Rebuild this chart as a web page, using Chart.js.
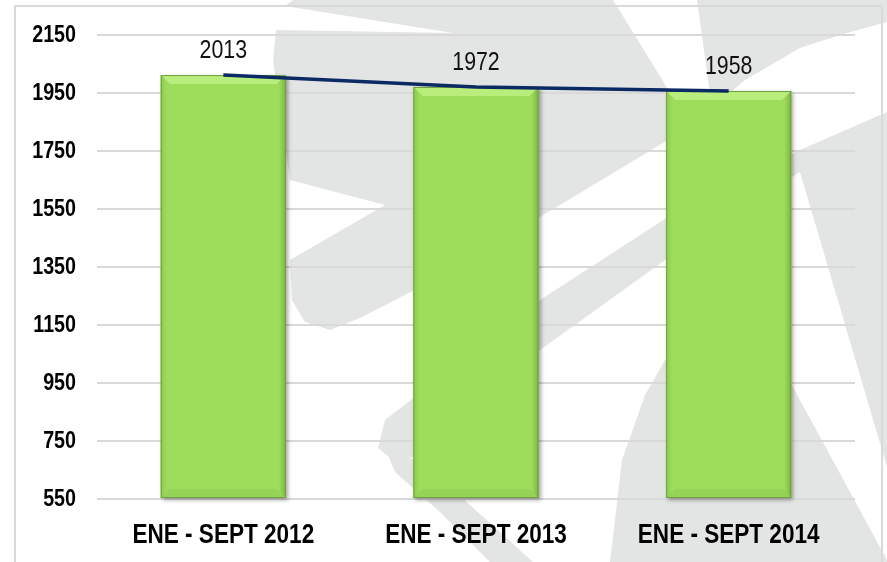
<!DOCTYPE html>
<html>
<head>
<meta charset="utf-8">
<script src="https://cdn.jsdelivr.net/npm/chart.js@4/dist/chart.umd.min.js"></script>
<style>
  html, body { margin: 0; padding: 0; background: #ffffff; }
  #c { display: block; }
</style>
</head>
<body>
<canvas id="c" width="887" height="562"></canvas>
<script>
// ---- data ----
const categories = ['ENE - SEPT 2012', 'ENE - SEPT 2013', 'ENE - SEPT 2014'];
const values = [2013, 1972, 1958];
const yTickLabels = [550, 750, 950, 1150, 1350, 1550, 1750, 1950, 2150];

const FONT = "'Liberation Sans', Arial, sans-serif";
const NARROW = 0.82; // horizontal squeeze to emulate a narrow face

// decorative watermark (background logo), pixel shapes
const watermark = [
  // big top-left/center shape
  [[285,6],[293,0],[613,0],[690,125],[668,140],[540,217],[444,275],[360,318],[330,330],[305,322],[292,300],[290,260],[385,205],[290,180],[273,60],[276,30],[453,33]],
  // top-right shape
  [[697,0],[887,0],[887,22],[840,35],[800,48],[745,80],[712,108]],
  // diagonal band + right triangle
  [[385,420],[540,300],[668,217],[800,150],[887,112],[887,467],[800,172],[668,258],[540,350],[420,455],[395,462],[378,448]],
  // stroke going down from the elbow
  [[388,455],[420,460],[470,505],[533,562],[490,562],[440,512],[395,472]],
  // lower right shape
  [[610,562],[622,460],[645,395],[668,355],[720,330],[770,345],[887,560],[887,562]]
];

const bgPlugin = {
  id: 'bg',
  beforeDraw(chart) {
    const ctx = chart.ctx;
    ctx.save();
    ctx.fillStyle = '#ffffff';
    ctx.fillRect(0, 0, chart.width, chart.height);
    ctx.fillStyle = '#e3e4e4';
    watermark.forEach(poly => {
      ctx.beginPath();
      poly.forEach((p, i) => i ? ctx.lineTo(p[0], p[1]) : ctx.moveTo(p[0], p[1]));
      ctx.closePath();
      ctx.fill();
    });
    ctx.strokeStyle = '#d9d9d9';
    ctx.lineWidth = 2;
    ctx.strokeRect(15, 6, 867, 570);
    ctx.restore();
  }
};

function poly(ctx, pts, fill) {
  ctx.beginPath();
  pts.forEach((p, i) => i ? ctx.lineTo(p[0], p[1]) : ctx.moveTo(p[0], p[1]));
  ctx.closePath();
  ctx.fillStyle = fill;
  ctx.fill();
}

function narrowText(ctx, text, x, y, font, align, baseline) {
  ctx.save();
  ctx.font = font;
  ctx.textAlign = align;
  ctx.textBaseline = baseline;
  ctx.translate(x, y);
  ctx.scale(NARROW, 1);
  ctx.fillText(text, 0, 0);
  ctx.restore();
}

const barStylePlugin = {
  id: 'barStyle',
  beforeDatasetDraw(chart, args) {
    if (args.index !== 0) return;
    const ctx = chart.ctx;
    ctx.save();
    args.meta.data.forEach(el => {
      const l = el.x - el.width / 2, r = el.x + el.width / 2, t = el.y, b = el.base;
      ctx.shadowColor = 'rgba(0,0,0,0.35)';
      ctx.shadowBlur = 4;
      ctx.shadowOffsetX = 2;
      ctx.shadowOffsetY = 2;
      ctx.fillStyle = '#9edc5c';
      ctx.fillRect(l, t, r - l, b - t);
    });
    ctx.restore();
  },
  afterDatasetDraw(chart, args) {
    if (args.index !== 0) return;
    const ctx = chart.ctx;
    ctx.save();
    const d = 9;
    args.meta.data.forEach(el => {
      const l = el.x - el.width / 2, r = el.x + el.width / 2, t = el.y, b = el.base;
      poly(ctx, [[l, t], [r, t], [r - d, t + d], [l + d, t + d]], '#b9ee7c');
      const gr = ctx.createLinearGradient(r - 7, 0, r, 0);
      gr.addColorStop(0, '#9edc5c');
      gr.addColorStop(1, '#7cb544');
      poly(ctx, [[r, t], [r, b], [r - d, b - d], [r - d, t + d]], gr);
      const gl = ctx.createLinearGradient(l, 0, l + 6, 0);
      gl.addColorStop(0, '#8ccb4e');
      gl.addColorStop(1, '#9edc5c');
      poly(ctx, [[l, t], [l + d, t + d], [l + d, b - d], [l, b]], gl);
      poly(ctx, [[l, b], [r, b], [r - d, b - d], [l + d, b - d]], '#94d355');
      ctx.strokeStyle = '#6f9f3f';
      ctx.lineWidth = 1;
      ctx.strokeRect(l + 0.5, t + 0.5, r - l - 1, b - t - 1);
    });
    ctx.restore();
  },
  afterDraw(chart) {
    const ctx = chart.ctx;
    // value labels
    const meta = chart.getDatasetMeta(0);
    ctx.fillStyle = '#111111';
    meta.data.forEach((el, i) => {
      narrowText(ctx, String(values[i]), el.x, el.y - 17, '26px ' + FONT, 'center', 'alphabetic');
    });
    // axis labels (positions from the library's scales)
    ctx.fillStyle = '#000000';
    const ys = chart.scales.y;
    ys.ticks.forEach(t => {
      narrowText(ctx, String(t.value), ys.right - 21, ys.getPixelForValue(t.value), 'bold 24px ' + FONT, 'right', 'middle');
    });
    const xs = chart.scales.x;
    xs.ticks.forEach((t, i) => {
      narrowText(ctx, categories[i], xs.getPixelForTick(i), chart.chartArea.bottom + 44, 'bold 27.5px ' + FONT, 'center', 'alphabetic');
    });
  }
};

new Chart(document.getElementById('c'), {
  data: {
    labels: categories,
    datasets: [
      {
        type: 'bar',
        data: values,
        base: yTickLabels[0],
        backgroundColor: '#9edc5c',
        borderWidth: 0,
        barPercentage: 0.495,
        categoryPercentage: 1.0,
        order: 1
      },
      {
        type: 'line',
        data: values,
        borderColor: '#0b2a63',
        borderWidth: 3.5,
        pointRadius: 0,
        tension: 0,
        fill: false,
        order: 0
      }
    ]
  },
  options: {
    responsive: false,
    devicePixelRatio: 1,
    animation: false,
    layout: { padding: { top: 35, right: 32, bottom: 0, left: 0 } },
    plugins: { legend: { display: false }, tooltip: { enabled: false } },
    scales: {
      y: {
        min: yTickLabels[0],
        max: yTickLabels[yTickLabels.length - 1],
        afterBuildTicks(scale) { scale.ticks = yTickLabels.map(v => ({ value: v })); },
        afterFit(scale) { scale.width = 97; },
        ticks: {
          callback: v => String(v),
          font: { family: FONT, size: 24, weight: 'bold' },
          color: 'rgba(0,0,0,0)',
          padding: 21
        },
        grid: { color: '#d9d9d9', lineWidth: 2, drawTicks: false },
        border: { display: false }
      },
      x: {
        afterFit(scale) { scale.height = 63; },
        ticks: {
          font: { family: FONT, size: 22, weight: 'bold' },
          color: 'rgba(0,0,0,0)',
          padding: 16,
          maxRotation: 0,
          autoSkip: false
        },
        grid: { display: false, drawTicks: false },
        border: { display: false }
      }
    }
  },
  plugins: [bgPlugin, barStylePlugin]
});
</script>
</body>
</html>
